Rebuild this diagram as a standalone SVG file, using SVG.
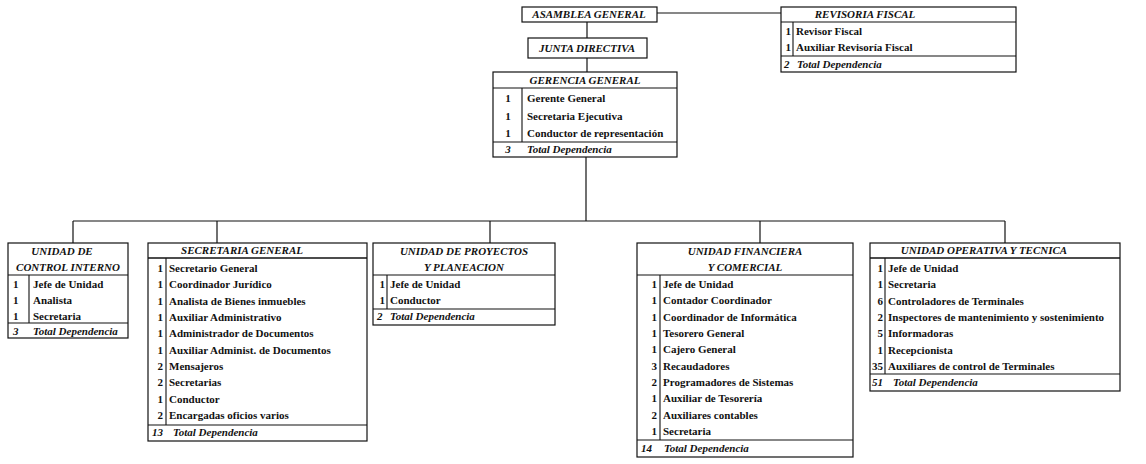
<svg xmlns="http://www.w3.org/2000/svg" width="1146" height="464" viewBox="0 0 1146 464">
<style>
.bg{fill:#ffffff}
.box{fill:#ffffff;stroke:#111;stroke-width:1.2}
.ln{stroke:#111;stroke-width:1.1;fill:none}
.hl{stroke:#111;stroke-width:1.6;fill:none}
.conn{stroke:#111;stroke-width:1.2;fill:none}
.t{font-family:"Liberation Serif","Times New Roman",serif;font-weight:bold;font-size:11px;fill:#111}
.ti{font-family:"Liberation Serif","Times New Roman",serif;font-weight:bold;font-style:italic;font-size:11px;fill:#111}
.c{text-anchor:middle}
.r{text-anchor:end}
</style>
<rect class="bg" x="0" y="0" width="1146" height="464"/>

<g id="connectors">
  <path class="conn" d="M657 13 H781"/>
  <path class="conn" d="M587 22 V38"/>
  <path class="conn" d="M587 58 V72"/>
  <path class="conn" d="M586 157 V221"/>
  <path class="conn" d="M73 221 H1005"/>
  <path class="conn" d="M73 221 V243"/>
  <path class="conn" d="M217 221 V243"/>
  <path class="conn" d="M490 221 V243"/>
  <path class="conn" d="M760 221 V243"/>
  <path class="conn" d="M1005 221 V243"/>
</g>

<g id="asamblea">
  <rect class="box" x="522" y="7" width="135" height="15"/>
  <text class="ti c" x="589" y="18">ASAMBLEA GENERAL</text>
</g>

<g id="junta">
  <rect class="box" x="528" y="38" width="119" height="20"/>
  <text class="ti c" x="587" y="52">JUNTA DIRECTIVA</text>
</g>

<g id="revisoria">
  <rect class="box" x="781" y="7" width="235" height="65"/>
  <path class="ln" d="M781 22 H1016 M781 56 H1016 M793 22 V56"/>
  <text class="ti c" x="865" y="18">REVISORIA FISCAL</text>
  <text class="t r" x="791" y="35">1</text><text class="t" x="796" y="35">Revisor Fiscal</text>
  <text class="t r" x="791" y="51">1</text><text class="t" x="796" y="51">Auxiliar Revisoría Fiscal</text>
  <text class="ti" x="784" y="68">2</text><text class="ti" x="797" y="68">Total Dependencia</text>
</g>

<g id="gerencia">
  <rect class="box" x="493" y="72" width="184" height="85"/>
  <path class="ln" d="M493 88 H677 M493 142 H677 M522 88 V142"/>
  <text class="ti c" x="585" y="84">GERENCIA GENERAL</text>
  <text class="t c" x="508" y="102">1</text><text class="t" x="527" y="102">Gerente General</text>
  <text class="t c" x="508" y="120">1</text><text class="t" x="527" y="120">Secretaria Ejecutiva</text>
  <text class="t c" x="508" y="137">1</text><text class="t" x="527" y="137">Conductor de representación</text>
  <text class="ti c" x="508" y="153">3</text><text class="ti" x="527" y="153">Total Dependencia</text>
</g>

<g id="control-interno">
  <rect class="box" x="8" y="243" width="120" height="95"/>
  <path class="ln" d="M8 275 H128 M8 323 H128 M29 275 V323"/>
  <text class="ti c" x="62" y="255">UNIDAD DE</text>
  <text class="ti c" x="68" y="271">CONTROL INTERNO</text>
  <text class="t" x="13" y="288">1</text><text class="t" x="33" y="288">Jefe de Unidad</text>
  <text class="t" x="13" y="304">1</text><text class="t" x="33" y="304">Analista</text>
  <text class="t" x="13" y="320">1</text><text class="t" x="33" y="320">Secretaria</text>
  <text class="ti" x="13" y="335">3</text><text class="ti" x="33" y="335">Total Dependencia</text>
</g>

<g id="secretaria-general">
  <rect class="box" x="148" y="243" width="219" height="198"/>
  <path class="hl" d="M148 258 H367"/>
  <path class="ln" d="M148 425 H367 M166 258 V425"/>
  <text class="ti c" x="242" y="254">SECRETARIA GENERAL</text>
  <text class="t r" x="163" y="272">1</text><text class="t" x="169" y="272">Secretario General</text>
  <text class="t r" x="163" y="288">1</text><text class="t" x="169" y="288">Coordinador Jurídico</text>
  <text class="t r" x="163" y="305">1</text><text class="t" x="169" y="305">Analista de Bienes inmuebles</text>
  <text class="t r" x="163" y="321">1</text><text class="t" x="169" y="321">Auxiliar Administrativo</text>
  <text class="t r" x="163" y="337">1</text><text class="t" x="169" y="337">Administrador de Documentos</text>
  <text class="t r" x="163" y="354">1</text><text class="t" x="169" y="354">Auxiliar Administ. de Documentos</text>
  <text class="t r" x="163" y="370">2</text><text class="t" x="169" y="370">Mensajeros</text>
  <text class="t r" x="163" y="386">2</text><text class="t" x="169" y="386">Secretarias</text>
  <text class="t r" x="163" y="403">1</text><text class="t" x="169" y="403">Conductor</text>
  <text class="t r" x="163" y="419">2</text><text class="t" x="169" y="419">Encargadas oficios varios</text>
  <text class="ti" x="152" y="436">13</text><text class="ti" x="173" y="436">Total Dependencia</text>
</g>

<g id="proyectos">
  <rect class="box" x="373" y="243" width="182" height="82"/>
  <path class="ln" d="M373 275 H555 M373 309 H555 M387 275 V309"/>
  <text class="ti c" x="464" y="255">UNIDAD DE PROYECTOS</text>
  <text class="ti c" x="464" y="271">Y PLANEACION</text>
  <text class="t r" x="385" y="288">1</text><text class="t" x="390" y="288">Jefe de Unidad</text>
  <text class="t r" x="385" y="304">1</text><text class="t" x="390" y="304">Conductor</text>
  <text class="ti" x="377" y="320">2</text><text class="ti" x="390" y="320">Total Dependencia</text>
</g>

<g id="financiera">
  <rect class="box" x="637" y="243" width="216" height="214"/>
  <path class="ln" d="M637 275 H853 M637 440 H853 M660 275 V440"/>
  <text class="ti c" x="745" y="255">UNIDAD FINANCIERA</text>
  <text class="ti c" x="745" y="271">Y COMERCIAL</text>
  <text class="t r" x="657" y="288">1</text><text class="t" x="663" y="288">Jefe de Unidad</text>
  <text class="t r" x="657" y="304">1</text><text class="t" x="663" y="304">Contador Coordinador</text>
  <text class="t r" x="657" y="321">1</text><text class="t" x="663" y="321">Coordinador de Informática</text>
  <text class="t r" x="657" y="337">1</text><text class="t" x="663" y="337">Tesorero General</text>
  <text class="t r" x="657" y="353">1</text><text class="t" x="663" y="353">Cajero General</text>
  <text class="t r" x="657" y="370">3</text><text class="t" x="663" y="370">Recaudadores</text>
  <text class="t r" x="657" y="386">2</text><text class="t" x="663" y="386">Programadores de Sistemas</text>
  <text class="t r" x="657" y="402">1</text><text class="t" x="663" y="402">Auxiliar de Tesorería</text>
  <text class="t r" x="657" y="419">2</text><text class="t" x="663" y="419">Auxiliares contables</text>
  <text class="t r" x="657" y="435">1</text><text class="t" x="663" y="435">Secretaria</text>
  <text class="ti" x="641" y="452">14</text><text class="ti" x="664" y="452">Total Dependencia</text>
</g>

<g id="operativa">
  <rect class="box" x="870" y="243" width="250" height="148"/>
  <path class="hl" d="M870 258 H1120"/>
  <path class="ln" d="M870 374 H1120 M885 258 V374"/>
  <text class="ti c" x="984" y="254">UNIDAD OPERATIVA Y TECNICA</text>
  <text class="t r" x="883" y="272">1</text><text class="t" x="888" y="272">Jefe de Unidad</text>
  <text class="t r" x="883" y="288">1</text><text class="t" x="888" y="288">Secretaria</text>
  <text class="t r" x="883" y="305">6</text><text class="t" x="888" y="305">Controladores de Terminales</text>
  <text class="t r" x="883" y="321">2</text><text class="t" x="888" y="321">Inspectores de mantenimiento y sostenimiento</text>
  <text class="t r" x="883" y="337">5</text><text class="t" x="888" y="337">Informadoras</text>
  <text class="t r" x="883" y="354">1</text><text class="t" x="888" y="354">Recepcionista</text>
  <text class="t r" x="883" y="370">35</text><text class="t" x="888" y="370">Auxiliares de control de Terminales</text>
  <text class="ti" x="872" y="386">51</text><text class="ti" x="893" y="386">Total Dependencia</text>
</g>
</svg>
